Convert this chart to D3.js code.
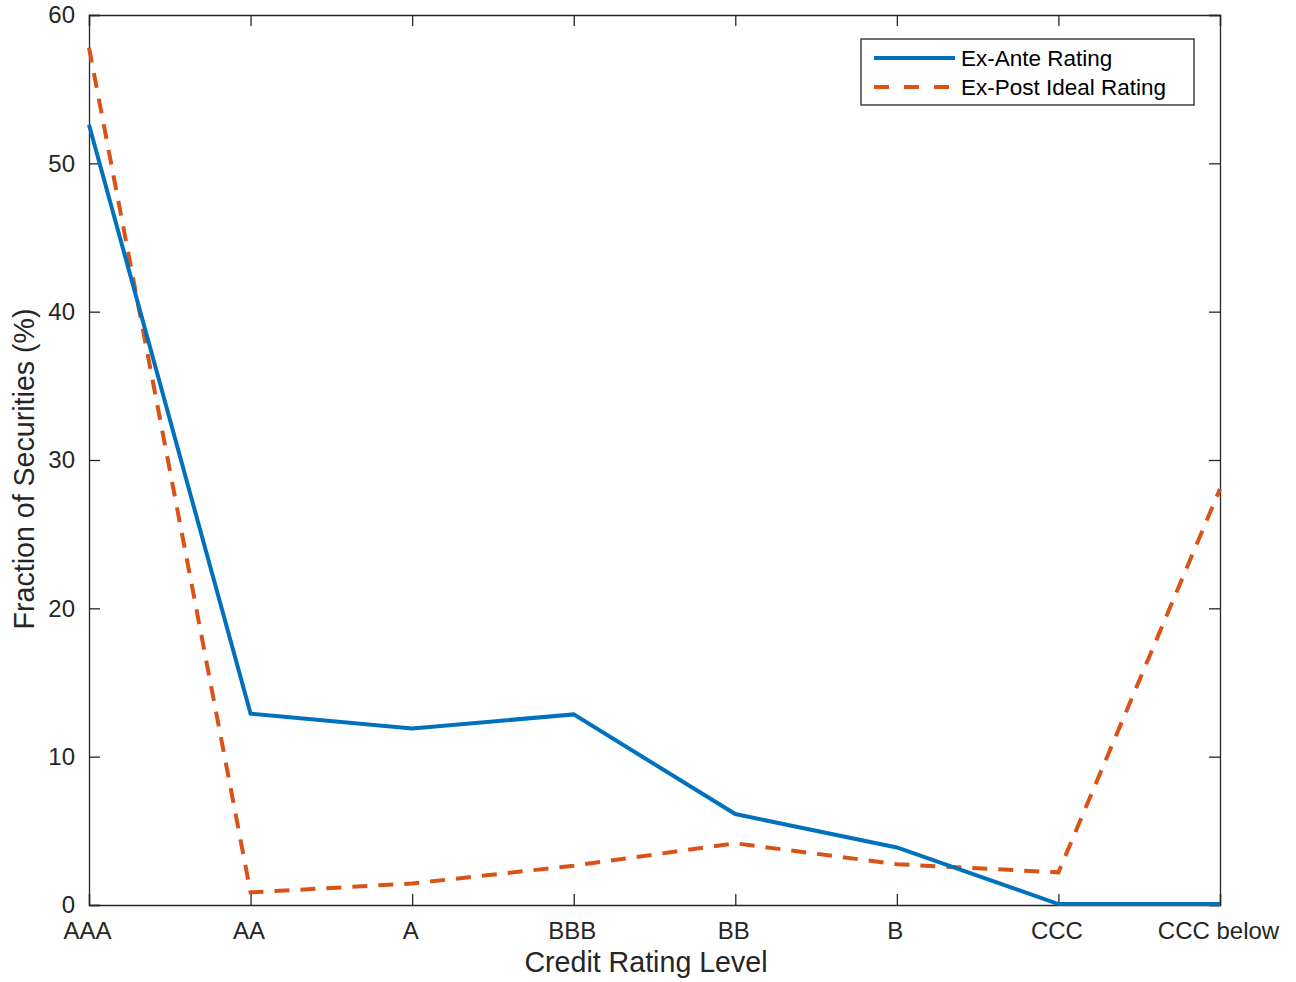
<!DOCTYPE html>
<html>
<head>
<script src="https://cdn.jsdelivr.net/npm/d3@7"></script>
<style>
  body { margin: 0; background: #fff; }
  text { font-family: "Liberation Sans", Arial, sans-serif; fill: #262626; }
</style>
</head>
<body>
<script>
  var categories = ["AAA", "AA", "A", "BBB", "BB", "B", "CCC", "CCC below"];
  var exAnte = [52.6, 12.9, 11.9, 12.85, 6.13, 3.88, 0.06, 0.06];
  var exPost = [57.8, 0.85, 1.45, 2.65, 4.16, 2.75, 2.2, 28.05];
  var yTicks = [0, 10, 20, 30, 40, 50, 60];

  var width = 1296, height = 982;
  var mLeft = 89, mRight = 1220, mTop = 15, mBottom = 905;

  var svg = d3.select("body").append("svg")
      .attr("width", width)
      .attr("height", height);

  var x = d3.scalePoint().domain(categories).range([mLeft, mRight]);
  var y = d3.scaleLinear().domain([0, 60]).range([mBottom, mTop]);

  var tickLen = 11;

  // axes with inward ticks, mirrored on top and right
  var gx = svg.append("g").attr("transform", "translate(0," + mBottom + ")")
      .call(d3.axisBottom(x).tickSize(-tickLen).tickPadding(tickLen + 6));
  var gxt = svg.append("g").attr("transform", "translate(0," + mTop + ")")
      .call(d3.axisTop(x).tickSize(-tickLen).tickFormat(""));
  var gy = svg.append("g").attr("transform", "translate(" + mLeft + ",0)")
      .call(d3.axisLeft(y).tickValues(yTicks).tickSize(-tickLen).tickPadding(tickLen + 3));
  var gyr = svg.append("g").attr("transform", "translate(" + mRight + ",0)")
      .call(d3.axisRight(y).tickValues(yTicks).tickSize(-tickLen).tickFormat(""));

  [gx, gxt, gy, gyr].forEach(function(g) {
    g.select(".domain").attr("stroke", "#262626").attr("stroke-width", 1.3);
    g.selectAll(".tick line").attr("stroke", "#262626").attr("stroke-width", 1.3);
    g.selectAll(".tick text").style("font-size", "24px").attr("fill", "#262626")
      .style("font-family", "Liberation Sans, Arial, sans-serif");
  });
  gx.selectAll(".tick text").attr("dx", -2);

  var line = d3.line()
      .x(function(d, i) { return x(categories[i]); })
      .y(function(d) { return y(d); });

  svg.append("path")
      .datum(exPost)
      .attr("d", line)
      .attr("fill", "none")
      .attr("stroke", "#D95319")
      .attr("stroke-width", 4)
      .attr("stroke-dasharray", "15,11");

  svg.append("path")
      .datum(exAnte)
      .attr("d", line)
      .attr("fill", "none")
      .attr("stroke", "#0072BD")
      .attr("stroke-width", 4);

  // axis labels
  svg.append("text")
      .attr("x", 646)
      .attr("y", 972)
      .attr("text-anchor", "middle")
      .style("font-size", "28.6px")
      .text("Credit Rating Level");

  svg.append("text")
      .attr("transform", "translate(34,469) rotate(-90)")
      .attr("text-anchor", "middle")
      .style("font-size", "28.6px")
      .text("Fraction of Securities (%)");

  // legend
  var lg = svg.append("g");
  lg.append("rect")
      .attr("x", 861).attr("y", 39)
      .attr("width", 333).attr("height", 66)
      .attr("fill", "#fff")
      .attr("stroke", "#262626")
      .attr("stroke-width", 1.3);

  var legendItems = [
    { name: "Ex-Ante Rating", color: "#0072BD", dash: null },
    { name: "Ex-Post Ideal Rating", color: "#D95319", dash: "15,15" }
  ];
  legendItems.forEach(function(d, i) {
    var cy = 58 + i * 29;
    lg.append("line")
        .attr("x1", 874).attr("x2", 955)
        .attr("y1", cy).attr("y2", cy)
        .attr("stroke", d.color)
        .attr("stroke-width", 4)
        .attr("stroke-dasharray", d.dash);
    lg.append("text")
        .attr("x", 961)
        .attr("y", cy + 8)
        .style("font-size", "22.5px")
        .style("fill", "#000")
        .text(d.name);
  });
</script>
</body>
</html>
